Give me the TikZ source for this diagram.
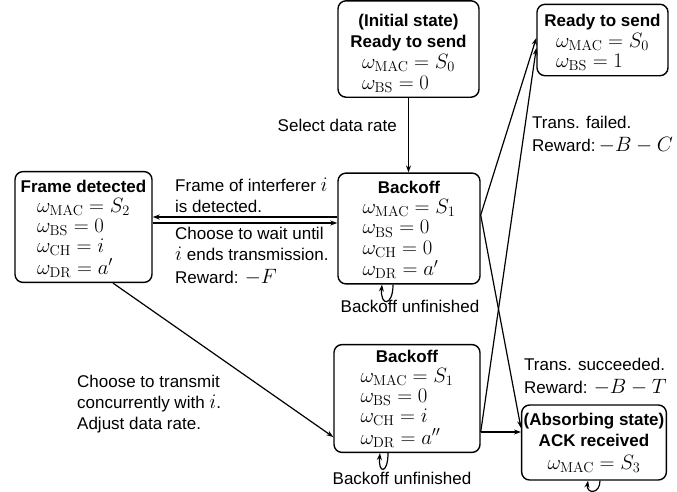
\documentclass[tikz,border=0pt]{standalone}
\usepackage[no-math]{fontspec}
\setmainfont{Liberation Sans}
\DeclareMathSizes{17}{20.5}{14.5}{10.5}
\usetikzlibrary{arrows.meta}
\newcommand\mathrows[1]{{\fontsize{17}{20.3}\selectfont\begin{tabular}[t]{@{}l@{}}#1\end{tabular}}}
\newcommand\topgap[1]{\rule{0pt}{#1pt}}
\begin{document}
\begin{tikzpicture}[x=1pt,y=1pt,
 every node/.style={font=\fontsize{17}{21}\selectfont},
 state/.style={draw, line width=1.4pt, rounded corners=8pt, align=center, inner sep=2pt},
 arr/.style={line width=1.2pt, -{Stealth[length=7pt,width=5pt]}},
 lbl/.style={align=left, inner sep=0pt}]
\useasboundingbox (0,0) rectangle (677,-491);

\node[state, minimum width=141pt, minimum height=88pt] (init) at (408.5,-49)
 {\topgap{24}\textbf{(Initial state)}\\\textbf{Ready to send}\\
  \mathrows{$\omega_{\mathrm{MAC}}=S_0$\\$\omega_{\mathrm{BS}}=0$}};
\node[state, minimum width=131pt, minimum height=66pt] (rts) at (602.5,-40)
 {\topgap{20}\textbf{Ready to send}\\
  \mathrows{$\omega_{\mathrm{MAC}}=S_0$\\$\omega_{\mathrm{BS}}=1$}};
\node[state, minimum width=137pt, minimum height=100pt] (fd) at (83.5,-227)
 {\topgap{18.5}\textbf{Frame detected}\\[-1pt]
  \mathrows{$\omega_{\mathrm{MAC}}=S_2$\\$\omega_{\mathrm{BS}}=0$\\$\omega_{\mathrm{CH}}=i$\\$\omega_{\mathrm{DR}}=a'$}};
\node[state, minimum width=142pt, minimum height=107pt] (bo1) at (409,-228.5)
 {\topgap{18.5}\textbf{Backoff}\\[-1pt]
  \mathrows{$\omega_{\mathrm{MAC}}=S_1$\\$\omega_{\mathrm{BS}}=0$\\$\omega_{\mathrm{CH}}=0$\\$\omega_{\mathrm{DR}}=a'$}};
\node[state, minimum width=146pt, minimum height=107pt] (bo2) at (407,-398.5)
 {\topgap{15.5}\textbf{Backoff}\\[-1pt]
  \mathrows{$\omega_{\mathrm{MAC}}=S_1$\\$\omega_{\mathrm{BS}}=0$\\$\omega_{\mathrm{CH}}=i$\\$\omega_{\mathrm{DR}}=a''$}};
\node[state, minimum width=128pt, minimum height=75pt] (abs) at (594,-442.5)
 {\textbf{(Absorbing state)}\\\textbf{ACK received}\\[2pt]$\omega_{\mathrm{MAC}}=S_3$};

% connectors
\draw[arr] (init.south) -- (init.south |- bo1.north);
\draw[arr] (bo1.west |- 0,-217) -- (fd.east |- 0,-217);
\draw[arr] (fd.east |- 0,-223) -- (bo1.west |- 0,-223);
\coordinate (b1r) at ([yshift=13.5pt]bo1.east);
\coordinate (b2r) at ([yshift=-33.5pt]bo2.east);
\draw[arr] (b1r) -- (rts.west |- 0,-38);
\draw[arr] (b1r) -- (abs.west |- 0,-428);
\draw[arr] (b2r) -- (rts.west |- 0,-48);
\draw[arr] (b2r) -- (abs.west |- b2r);
\draw[arr] ([xshift=29.5pt]fd.south) -- ([yshift=-38.5pt]bo2.west);

% self loops
\draw[arr] ([xshift=-16pt]bo1.south) .. controls +(0,-22) and +(-2,-22) .. ([xshift=-27pt]bo1.south);
\draw[arr] ([xshift=-19pt]bo2.south) .. controls +(0,-21) and +(-2,-21) .. ([xshift=-27pt]bo2.south);
\draw[arr] ([xshift=6pt]abs.south) .. controls +(0,-14) and +(-2,-13) .. ([xshift=-6pt]abs.south);

% labels
\node[lbl, anchor=east] (lsel) at (397,-125) {Select data rate};
\node[lbl, anchor=north west] (lfr) at (175,-178) {Frame of interferer $i$\\is detected.};
\node[lbl, anchor=north west] (lwait) at (175,-227) {Choose to wait until\\$i$ ends transmission.\\[1.5pt]Reward: $-F$};
\node[lbl, anchor=north west] (lfail) at (532,-116) {Trans. failed.\\[2pt]Reward:$\,-B-C$};
\node[lbl, anchor=north west] (lsucc) at (524,-358) {Trans. succeeded.\\[2pt]Reward: $-B-T$};
\node[lbl, anchor=north west] (lconc) at (77,-375) {Choose to transmit\\concurrently with $i$.\\Adjust data rate.};
\node[lbl] (lbo1) at (410,-306) {Backoff unfinished};
\node[lbl] (lbo2) at (402,-478) {Backoff unfinished};
\end{tikzpicture}
\end{document}
